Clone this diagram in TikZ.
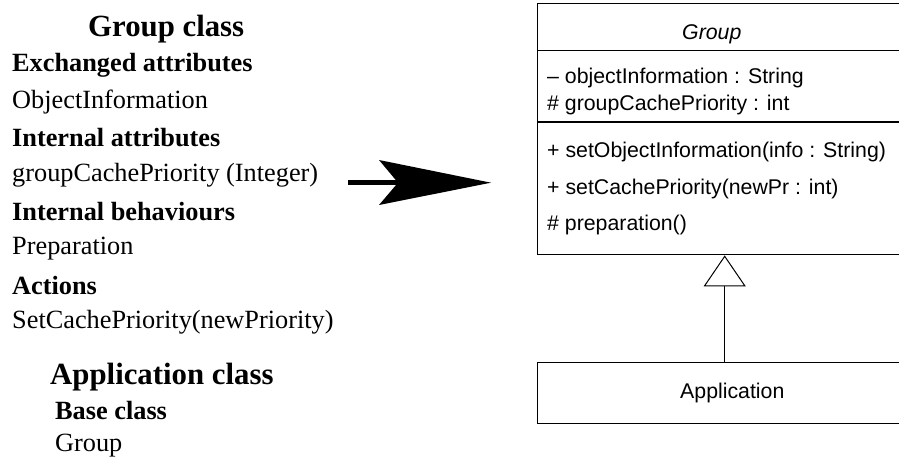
\documentclass[tikz,border=0pt]{standalone}
\usepackage{fontspec}
\setmainfont{Liberation Serif}
\newfontfamily\umlfont{Liberation Sans}
\usetikzlibrary{arrows.meta}
\begin{document}
\begin{tikzpicture}[x=1pt,y=-1pt,
  heading/.style={font=\bfseries\fontsize{30.8}{34}\selectfont, anchor=base west, inner sep=0},
  section/.style={font=\bfseries\fontsize{26.3}{30}\selectfont, anchor=base west, inner sep=0},
  entry/.style={font=\fontsize{26.3}{30}\selectfont, anchor=base west, inner sep=0},
  umltext/.style={font=\umlfont\fontsize{21.3}{24}\selectfont, anchor=base west, inner sep=0},
  classbox/.style={draw, line width=1.4pt, inner sep=0, minimum width=374pt, anchor=north west},
  divider/.style={line width=1.4pt},
  generalization/.style={line width=1pt, -{Triangle[open, length=31pt, width=42pt, fill=white]}},
]
\path[use as bounding box, clip] (0,0) rectangle (899,460);

% textual description of the classes
\node[heading] (gclass) at (88,36.5) {Group class};
\node[section] (exch)   at (12,71.7)  {Exchanged attributes};
\node[entry]   (objinf) at (12,108)   {ObjectInformation};
\node[section] (intatt) at (12,146.7) {Internal attributes};
\node[entry]   (gcp)    at (12,181.7) {groupCachePriority (Integer)};
\node[section] (intbeh) at (12,220)   {Internal behaviours};
\node[entry]   (prep)   at (12,254.3) {Preparation};
\node[section] (acts)   at (12,294)   {Actions};
\node[entry]   (setcp)  at (12,328.3) {SetCachePriority(newPriority)};
\node[heading] (aclass) at (50,384)   {Application class};
\node[section] (base)   at (55,419.3) {Base class};
\node[entry]   (basegr) at (55,451.7) {Group};

% transformation arrow
\coordinate (arrS) at (348,182.7);
\coordinate (arrN) at (398,182.7);
\draw[line width=5pt] (arrS) -- (arrN);
\fill (379,160) -- (491,182.7) -- (379,205) -- (arrN) -- cycle;

% UML class Group
\node[classbox, minimum height=251pt] (grp) at (537,3) {};
\draw[divider] (grp.west |- 0,50.7) -- (grp.east |- 0,50.7);
\draw[divider] (grp.west |- 0,122) -- (grp.east |- 0,122);
\node[umltext, font=\umlfont\itshape\fontsize{21.3}{24}\selectfont] (gname) at (682,40) {Group};
\node[umltext] (a1) at (547,83.3)  {– objectInformation : String};
\node[umltext] (a2) at (547,110)   {\# groupCachePriority : int};
\node[umltext] (o1) at (547,157.7) {+ setObjectInformation(info : String)};
\node[umltext] (o2) at (547,194)   {+ setCachePriority(newPr : int)};
\node[umltext] (o3) at (547,230)   {\# preparation()};

% UML class Application
\node[classbox, minimum height=61pt] (app) at (537,362) {};
\node[umltext] (aname) at (680,398) {Application};

% generalization
\draw[generalization] (app.north) -- (grp.south);
\end{tikzpicture}
\end{document}
